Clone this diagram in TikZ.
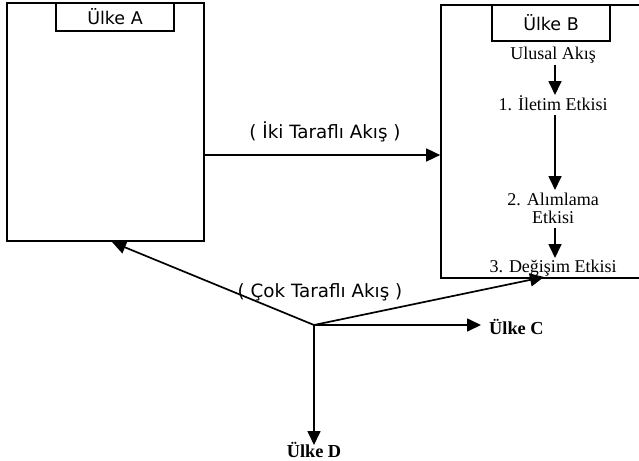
\documentclass[tikz,border=0pt]{standalone}
\usepackage{fontspec}
\setmainfont{Liberation Serif}
\newfontfamily\verd{DejaVu Sans}
\usetikzlibrary{arrows.meta}
\begin{document}
\begin{tikzpicture}[x=1pt,y=-1pt,
  box/.style={draw,line width=1.7pt},
  tbox/.style={draw,line width=1.7pt,inner sep=0pt,font=\verd\fontsize{17.5}{20}\selectfont},
  flow/.style={line width=1.7pt,-{Triangle[length=14pt,width=13pt]}},
  sans/.style={font=\verd\fontsize{18.3}{21}\selectfont,inner sep=1pt},
  ser/.style={font=\fontsize{18}{20}\selectfont,inner sep=1pt,align=center},
  serb/.style={font=\bfseries\fontsize{18.3}{20}\selectfont,inner sep=1pt}]
\useasboundingbox (0,0) rectangle (639,460);
\clip (0,0) rectangle (639,460);
% Country A
\node[box,minimum width=197pt,minimum height=238pt,inner sep=0pt] (A) at (105.5,122) {};
\node[tbox,minimum width=118pt,minimum height=28pt] (At) at (115,17) {Ülke A};
% Country B
\node[box,minimum width=210pt,minimum height=273pt,inner sep=0pt] (B) at (546,141.5) {};
\node[tbox,minimum width=118pt,minimum height=36pt] (Bt) at (551,23) {Ülke B};
\node[ser] (u) at (553,55) {Ulusal Akış};
\node[ser] (e1) at (553,103) {1. İletim Etkisi};
\node[ser] (e2) at (553,208) {2. Alımlama\\[-2pt]Etkisi};
\node[ser] (e3) at (553,268) {3. Değişim Etkisi};
\draw[flow] (555,65) -- (555,95);
\draw[flow] (555,115) -- (555,190);
\draw[flow] (555,228) -- (555,258);
% bilateral
\coordinate (s) at (205,155);
\draw[flow] (s) -- (B.west |- s);
\node[sans] (bi) at (325,132) {( İki Taraflı Akış )};
% multilateral hub
\coordinate (h) at (314,325);
\coordinate (ta) at (112,242);
\coordinate (tb) at (544,277);
\node[serb,anchor=west] (C) at (488,327) {Ülke C};
\node[serb,anchor=north] (D) at (314,441) {Ülke D};
\draw[flow] (h) -- ([xshift=-7pt]C.west |- h);
\draw[flow] (h) -- ([yshift=-4pt]D.north);
\draw[flow] (h) -- (ta);
\draw[flow] (h) -- (tb);
\node[sans] (mu) at (320,292) {( Çok Taraflı Akış )};
\end{tikzpicture}
\end{document}
